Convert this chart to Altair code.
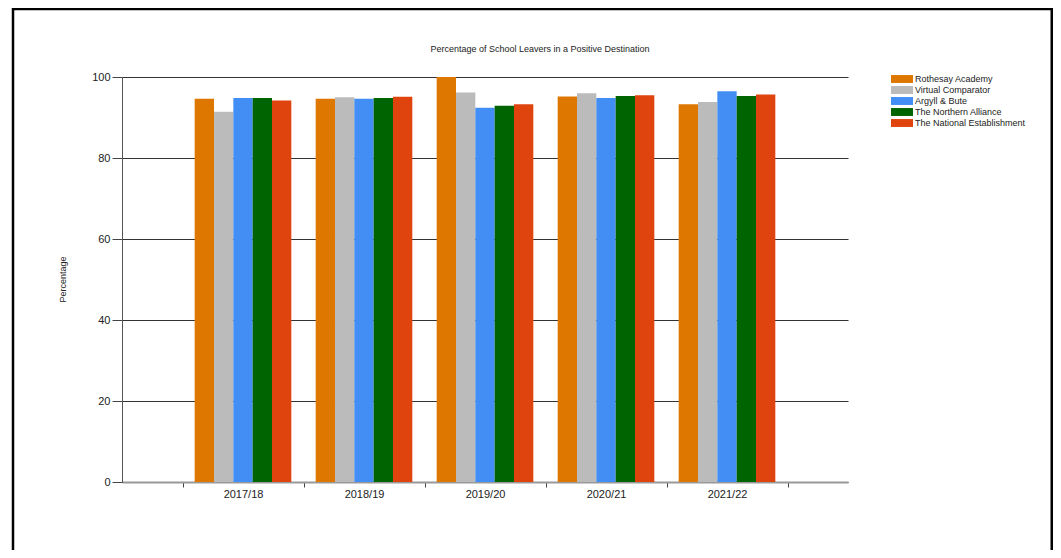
import altair as alt
import pandas as pd

years = ["2017/18", "2018/19", "2019/20", "2020/21", "2021/22"]
series = ["Rothesay Academy", "Virtual Comparator", "Argyll & Bute",
          "The Northern Alliance", "The National Establishment"]
colors = ["#DD7700", "#BBBBBB", "#428EF4", "#006400", "#E0440E"]

rothesay = [94.6, 94.6, 100.0, 95.2, 93.3]
virtual = [91.4, 95.0, 96.2, 96.0, 93.8]
argyll = [94.8, 94.6, 92.4, 94.8, 96.5]
northern = [94.8, 94.8, 92.9, 95.3, 95.3]
national = [94.2, 95.1, 93.3, 95.5, 95.7]

values = [rothesay, virtual, argyll, northern, national]
rows = []
for s, vals in zip(series, values):
    for y, v in zip(years, vals):
        rows.append({"year": y, "series": s, "value": v})
df = pd.DataFrame(rows)

FONT = "Liberation Sans"

bars = alt.Chart(df).mark_bar().encode(
    x=alt.X("year:N", sort=years, title=None,
            scale=alt.Scale(paddingInner=0, paddingOuter=0.5),
            axis=alt.Axis(tickBand="extent", tickSize=5, tickColor="#444",
                          domainColor="#999", domainWidth=2, labelAngle=0,
                          labelFontSize=11, labelColor="#222", labelPadding=1,
                          labelFont=FONT)),
    xOffset=alt.XOffset("series:N", sort=series,
                        scale=alt.Scale(paddingOuter=0.63, paddingInner=0)),
    y=alt.Y("value:Q", title="Percentage",
            scale=alt.Scale(domain=[0, 100], nice=False),
            axis=alt.Axis(values=[0, 20, 40, 60, 80, 100], grid=True,
                          gridColor="#333", gridWidth=1, domainColor="#555",
                          tickColor="#444", tickSize=10, labelFontSize=11,
                          labelColor="#222", labelPadding=2, labelFont=FONT,
                          titleFont=FONT, titleFontSize=9, titleFontWeight="normal",
                          titleColor="#222", titleX=-60, titleY=202,
                          titleAlign="center", titleBaseline="middle")),
    color=alt.Color("series:N", sort=series,
                    scale=alt.Scale(domain=series, range=colors),
                    legend=alt.Legend(title=None, orient="none",
                                      legendX=774.5, legendY=-3.5,
                                      symbolType="M-2,-0.72H2V0.72H-2Z",
                                      symbolSize=121, symbolStrokeWidth=0,
                                      labelOffset=7.5, rowPadding=0,
                                      labelFontSize=9, labelFont=FONT,
                                      labelColor="#222", padding=0)),
)

frame_data = alt.Data(values=[{"k": 1}])
left = alt.Chart(frame_data).mark_rule(color="black", strokeWidth=2.5).encode(
    x=alt.value(-109), y=alt.value(-69), y2=alt.value(480))
right = alt.Chart(frame_data).mark_rule(color="black", strokeWidth=3).encode(
    x=alt.value(930), y=alt.value(-69), y2=alt.value(480))
top = alt.Chart(frame_data).mark_rule(color="black", strokeWidth=2.5).encode(
    x=alt.value(-110), x2=alt.value(932), y=alt.value(-68))

chart = alt.layer(bars, left, right, top).properties(
    width=726, height=405,
    title=alt.TitleParams("Percentage of School Leavers in a Positive Destination",
                          fontSize=9, font=FONT, fontWeight="normal",
                          color="#222", anchor="middle", frame="group",
                          dx=55, offset=-47),
    padding={"left": 114, "top": 69, "right": 205, "bottom": 68},
    autosize=alt.AutoSizeParams(type="none"),
).configure_view(stroke=None).configure_axis(labelFont=FONT)

chart.save("out.html", embed_options={"renderer": "svg", "actions": False})
